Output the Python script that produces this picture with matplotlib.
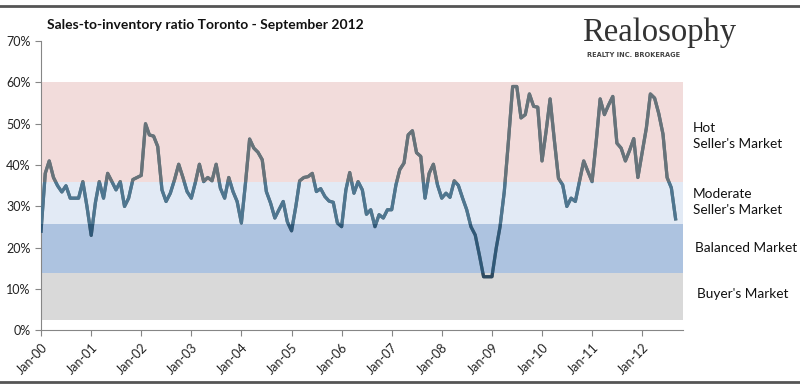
import numpy as np
import pandas as pd
import matplotlib
matplotlib.use("Agg")
import matplotlib.pyplot as plt
import matplotlib.dates as mdates
from matplotlib.patches import Rectangle
from matplotlib.lines import Line2D

# Monthly sales-to-inventory ratio (%), Jan 2000 - Sep 2012
ratio = [
    24, 38, 41, 37, 35, 33.5, 35, 32, 32, 32, 36, 30,          # 2000
    23, 31, 36, 32, 38, 36, 34, 36, 30, 32, 36.5, 37,          # 2001
    37.5, 50, 47.3, 47, 44.5, 34, 31.2, 33.2, 36.5, 40.2, 37, 33.6,  # 2002
    32, 36, 40.2, 36, 37, 36.2, 40.2, 34.4, 32, 37, 33.6, 31.2,      # 2003
    26, 36, 46.3, 44.1, 43.1, 41.3, 33.6, 30.8, 27.2, 29.2, 31.2, 26.3,  # 2004
    24.1, 30, 36.2, 37, 37.2, 38, 33.6, 34.3, 32.4, 31.3, 31, 26,        # 2005
    25.1, 34, 38.2, 33.2, 36, 34, 28.1, 29.2, 25.1, 28, 27.2, 29.2,      # 2006
    29.2, 35.2, 38.9, 40.5, 47.3, 48.3, 43, 42.1, 32, 38, 40.2, 35.2,    # 2007
    32, 33.2, 32.2, 36.2, 35.1, 32, 29.2, 25.1, 23.1, 18.3, 13, 13,      # 2008
    13, 19.9, 25.1, 33.6, 45.7, 59, 59, 51.4, 52.2, 57.2, 54.2, 54,      # 2009
    41, 48.5, 56, 46, 36.8, 35.2, 30, 32, 31.2, 36, 41, 38.5,            # 2010
    36, 46, 56, 52.2, 54.5, 56.6, 45.3, 44.1, 41, 43.5, 46.4, 37,        # 2011
    43, 49, 57.2, 56.2, 52.5, 47.5, 37, 34.5, 27,                        # 2012
]
months = pd.date_range("2000-01-01", periods=len(ratio), freq="MS")

# Market zones (lower edge, upper edge in %)
zone_names = ["Buyer's Market", "Balanced Market", "Moderate\nSeller's Market", "Hot\nSeller's Market"]
zone_lo = [2.5, 14, 25.7, 36]
zone_hi = [14, 25.7, 36, 60]
zone_colors = ["#D9D9D9", "#ADC3E0", "#E2EAF5", "#F2DCDB"]
line_colors = ["#2E4A60", "#2F5878", "#4E7690", "#67737A"]

fig = plt.figure(figsize=(8, 3.87), dpi=100)
ax = fig.add_axes([0.05125, 0.146, 0.8025, 0.748])

for lo, hi, c in zip(zone_lo, zone_hi, zone_colors):
    ax.axhspan(lo, hi, color=c, lw=0, zorder=0)

# base line, then re-colored copies clipped to each zone
ax.plot(months, ratio, color="#67737A", lw=2.3, zorder=2, solid_joinstyle="round")
for lo, hi, c in zip(zone_lo, zone_hi, line_colors):
    ln, = ax.plot(months, ratio, color=c, lw=2.3, zorder=3, solid_joinstyle="round")
    clip = Rectangle((0, lo), 1, hi - lo, transform=ax.get_yaxis_transform())
    ln.set_clip_path(clip)

ax.set_ylim(0, 70)
ax.set_xlim(months[0], pd.Timestamp("2012-10-25"))
ax.set_yticks(range(0, 71, 10))
ax.set_yticklabels([f"{v}%" for v in range(0, 71, 10)])
ax.xaxis.set_major_locator(mdates.YearLocator())
ax.xaxis.set_major_formatter(mdates.DateFormatter("%b-%y"))
for lab in ax.get_xticklabels():
    lab.set_rotation(45)
    lab.set_ha("right")
    lab.set_rotation_mode("anchor")

for s in ["top", "right"]:
    ax.spines[s].set_visible(False)
for s in ["left", "bottom"]:
    ax.spines[s].set_color("#868686")
ax.tick_params(axis="both", colors="#868686", labelcolor="#222222", labelsize=9, length=4)
ax.set_facecolor("none")

for lab in ax.get_xticklabels() + ax.get_yticklabels():
    lab.set_family("Lato")

# title
fig.text(0.059, 0.935, "Sales-to-inventory ratio Toronto - September 2012",
         fontsize=10, fontweight="bold", family="Lato", color="#111111", va="center")

# logo text
fig.text(0.728, 0.915, "Realosophy", fontsize=23.5, family="Liberation Serif", color="#333333", va="center")
fig.text(0.734, 0.858, "REALTY INC. BROKERAGE", fontsize=4.8, family="DejaVu Sans",
         fontweight="bold", color="#444444", va="center")

# zone labels
label_y = [330.5 - 294, 330.5 - 248, 330.5 - 202, 330.5 - 136]
label_x = [697, 695, 693, 693]
for name, xx, yy in zip(zone_names, label_x, label_y):
    fig.text(xx / 800, (387 - 330.5 + yy) / 387, name, fontsize=9.8, family="Lato",
             color="#111111", va="center", linespacing=1.5)

# frame lines
fig.add_artist(Line2D([0, 1], [1 - 6 / 387, 1 - 6 / 387], color="#555555", lw=2))
fig.add_artist(Line2D([0, 1], [5 / 387, 5 / 387], color="#555555", lw=2))

fig.savefig("out.png", dpi=100)
